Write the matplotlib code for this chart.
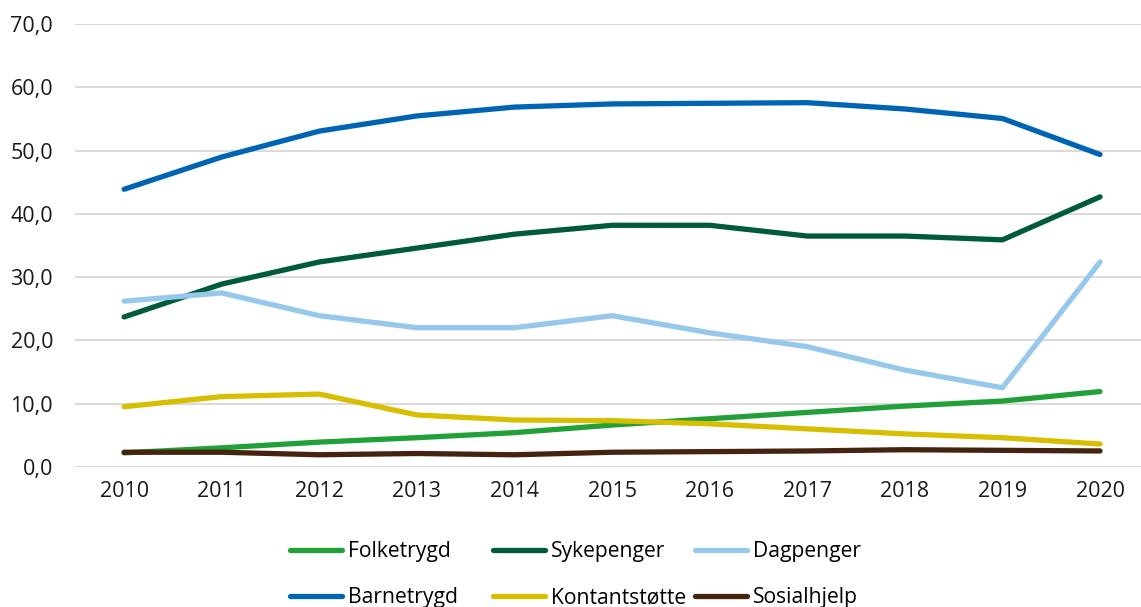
import matplotlib.pyplot as plt
from matplotlib.ticker import FuncFormatter

plt.rcParams['font.family'] = ['Open Sans', 'DejaVu Sans']

years = list(range(2010, 2021))

folketrygd = [2.2, 3.0, 3.9, 4.6, 5.4, 6.6, 7.6, 8.6, 9.6, 10.4, 11.9]
sykepenger = [23.7, 28.9, 32.4, 34.6, 36.8, 38.2, 38.2, 36.5, 36.5, 35.9, 42.7]
dagpenger = [26.2, 27.5, 23.9, 22.0, 22.0, 23.9, 21.2, 19.0, 15.3, 12.5, 32.4]
barnetrygd = [43.9, 49.0, 53.1, 55.5, 56.9, 57.4, 57.5, 57.6, 56.6, 55.1, 49.4]
kontantstotte = [9.5, 11.1, 11.5, 8.2, 7.4, 7.3, 6.8, 6.0, 5.2, 4.6, 3.6]
sosialhjelp = [2.3, 2.3, 1.9, 2.1, 1.9, 2.3, 2.4, 2.5, 2.7, 2.6, 2.5]

fig = plt.figure(figsize=(11.41, 6.07), dpi=100)
ax = fig.add_axes([0.066, 0.231, 0.934, 0.729])

lw = 3.8
l_f, = ax.plot(years, folketrygd, color='#21a038', lw=lw, label='Folketrygd', solid_capstyle='round')
l_s, = ax.plot(years, sykepenger, color='#005a3c', lw=lw, label='Sykepenger', solid_capstyle='round')
l_d, = ax.plot(years, dagpenger, color='#96c8ec', lw=lw, label='Dagpenger', solid_capstyle='round')
l_b, = ax.plot(years, barnetrygd, color='#0064b4', lw=lw, label='Barnetrygd', solid_capstyle='round')
l_k, = ax.plot(years, kontantstotte, color='#d7be00', lw=lw, label='Kontantstøtte', solid_capstyle='round')
l_so, = ax.plot(years, sosialhjelp, color='#46230f', lw=lw, label='Sosialhjelp', solid_capstyle='round')

ax.set_xlim(2009.5, 2020.42)
ax.set_ylim(0, 70)
ax.set_xticks(years)
ax.set_yticks(range(0, 71, 10))
ax.yaxis.set_major_formatter(FuncFormatter(lambda v, p: f'{v:.1f}'.replace('.', ',')))
ax.tick_params(length=0, labelsize=15.5, colors='#1a1a1a')
ax.tick_params(axis='x', pad=10)
ax.tick_params(axis='y', pad=16)
ax.grid(axis='y', color='#d9d9d9', lw=1.4)
ax.set_axisbelow(True)
for s in ax.spines.values():
    s.set_visible(False)

# one legend per column so the columns are evenly spaced, like the original
columns = [(l_f, l_b), (l_s, l_k), (l_d, l_so)]
col_x = [0.254, 0.432, 0.609]
for hs, x in zip(columns, col_x):
    fig.legend(hs, [h.get_label() for h in hs], loc='center left',
               bbox_to_anchor=(x, 0.053), frameon=False, fontsize=15.2,
               borderpad=0, borderaxespad=0,
               handlelength=2.45, handletextpad=0.3, labelspacing=1.2)

fig.savefig('out.png', dpi=100)
